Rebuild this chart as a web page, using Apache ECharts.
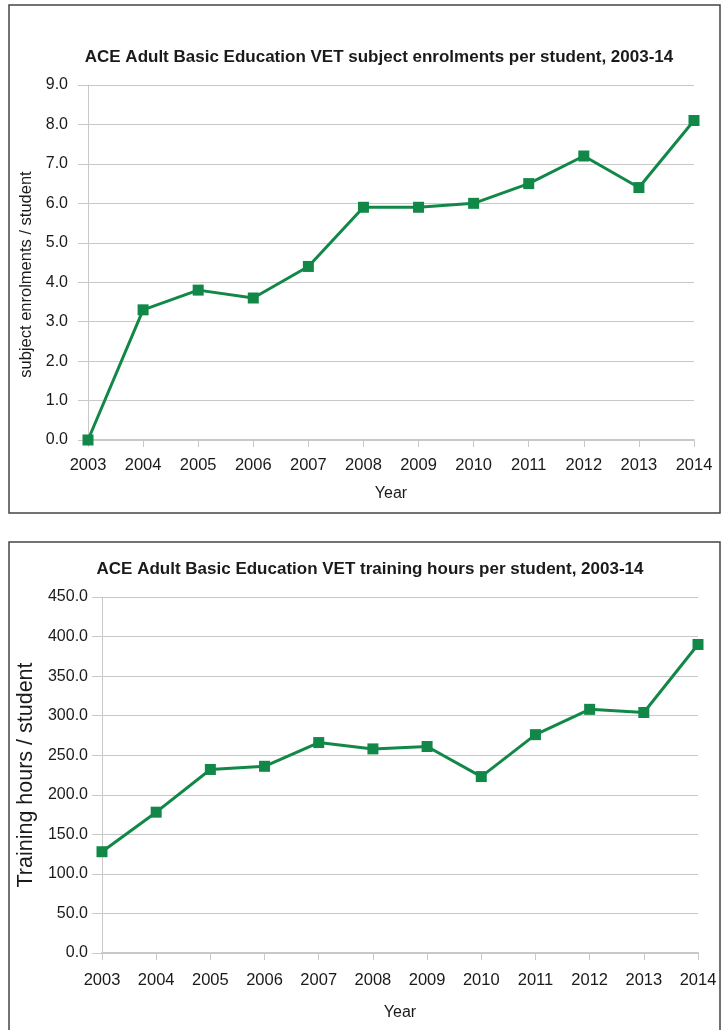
<!DOCTYPE html>
<html><head><meta charset="utf-8">
<script src="https://cdn.jsdelivr.net/npm/echarts@6/dist/echarts.min.js"></script>
<style>html,body{margin:0;padding:0;background:#fff}#c{width:721px;height:1030px}</style>
</head><body><div id="c"></div>
<script>
const years = ['2003','2004','2005','2006','2007','2008','2009','2010','2011','2012','2013','2014'];
const enrolmentsPerStudent = [0.0, 3.3, 3.8, 3.6, 4.4, 5.9, 5.9, 6.0, 6.5, 7.2, 6.4, 8.1];
const hoursPerStudent = [128, 178, 232, 236, 266, 258, 261, 223, 276, 308, 304, 390];
const title1 = 'ACE Adult Basic Education VET subject enrolments per student, 2003-14';
const title2 = 'ACE Adult Basic Education VET training hours per student, 2003-14';

const FONT = '"Liberation Sans", Arial, sans-serif';
const GREEN = '#118847';
const GRID = '#c8c8c8';
const chart = echarts.init(document.getElementById('c'), null, {renderer:'canvas'});

function xAxis(gridIndex, margin, gap){
  return {type:'category', gridIndex, data:years, boundaryGap:false,
    name:'Year', nameLocation:'middle', nameGap:gap,
    nameTextStyle:{fontFamily:FONT, fontSize:16, color:'#1a1a1a'},
    axisLine:{lineStyle:{color:GRID, width:2}},
    axisTick:{show:true, length:7, lineStyle:{color:GRID}},
    axisLabel:{margin, fontFamily:FONT, fontSize:16.5, color:'#1a1a1a', interval:0},
    splitLine:{show:false}};
}
function yAxis(gridIndex, max, interval, name, margin, gap, nameSize, namePad){
  return {type:'value', gridIndex, min:0, max, interval,
    name, nameLocation:'middle', nameGap:gap,
    nameTextStyle:{fontFamily:FONT, fontSize:nameSize, color:'#1a1a1a', padding:namePad},
    axisLine:{show:true, lineStyle:{color:GRID, width:1}},
    axisTick:{show:true, length:10, lineStyle:{color:GRID}},
    axisLabel:{margin, fontFamily:FONT, fontSize:16, color:'#1a1a1a', formatter:v=>v.toFixed(1)},
    splitLine:{show:true, lineStyle:{color:GRID, width:1}}};
}
function series(idx, data){
  return {type:'line', xAxisIndex:idx, yAxisIndex:idx, data,
    lineStyle:{color:GREEN, width:3}, itemStyle:{color:GREEN},
    symbol:'rect', symbolSize:11, showSymbol:true, animation:false};
}

chart.setOption({
  animation:false,
  graphic:[
    {type:'rect', shape:{x:9, y:5, width:711, height:508}, style:{fill:'none', stroke:'#444', lineWidth:1.5}},
    {type:'rect', shape:{x:9, y:542, width:711, height:500}, style:{fill:'none', stroke:'#444', lineWidth:1.5}}
  ],
  title:[
    {text:title1, left:374, top:44, textAlign:'center', textStyle:{fontFamily:FONT, fontSize:17, fontWeight:'bold', color:'#1a1a1a'}},
    {text:title2, left:365, top:556, textAlign:'center', textStyle:{fontFamily:FONT, fontSize:17, fontWeight:'bold', color:'#1a1a1a'}}
  ],
  grid:[
    {left:88, right:27, top:85, bottom:590},
    {left:102, right:23, top:597, bottom:77}
  ],
  xAxis:[xAxis(0,17,46), xAxis(1,19,52)],
  yAxis:[
    yAxis(0,9,1,'subject enrolments / student',20,48,16.5,[0,24,0,0]),
    yAxis(1,450,50,'Training hours / student',14,62,21.5,0)
  ],
  series:[series(0,enrolmentsPerStudent), series(1,hoursPerStudent)]
});
</script></body></html>
